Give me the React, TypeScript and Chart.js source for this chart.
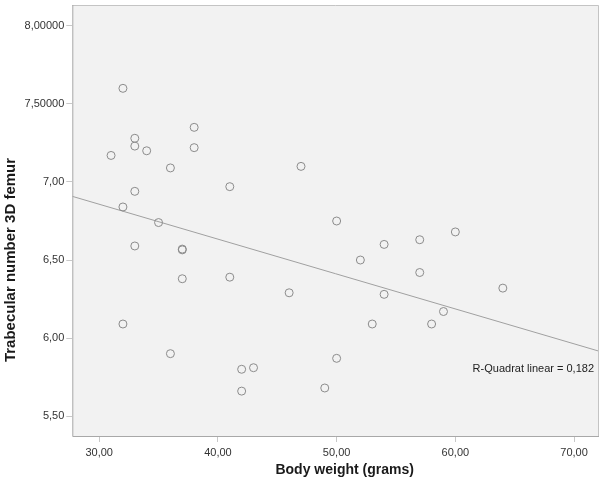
import React, { useEffect, useRef } from "react";
import { Chart, registerables } from "chart.js";

Chart.register(...registerables);

// Body weight (grams) of each animal
const bodyWeight = [
  32, 38, 33, 33, 34, 38, 31, 36, 47, 41, 33, 32, 35, 50, 33, 37, 37, 52, 37,
  41, 46, 32, 54, 57, 60, 57, 54, 64, 59, 53, 58, 36, 42, 43, 42, 49, 50,
];
// Trabecular number 3D femur
const trabecularNumber = [
  7.6, 7.35, 7.28, 7.23, 7.2, 7.22, 7.17, 7.09, 7.1, 6.97, 6.94, 6.84, 6.74,
  6.75, 6.59, 6.57, 6.565, 6.5, 6.38, 6.39, 6.29, 6.09, 6.6, 6.63, 6.68, 6.42,
  6.28, 6.32, 6.17, 6.09, 6.09, 5.9, 5.8, 5.81, 5.66, 5.68, 5.87,
];
// Linear fit line endpoints
const fitX = [27.735, 72.1];
const fitY = [6.908, 5.916];
const rSquaredLabel = "R-Quadrat linear = 0,182";

const xTicks = [30, 40, 50, 60, 70];
const xTickLabels = ["30,00", "40,00", "50,00", "60,00", "70,00"];
const yTicks = [5.5, 6.0, 6.5, 7.0, 7.5, 8.0];
const yTickLabels = ["5,50", "6,00", "6,50", "7,00", "7,50000", "8,00000"];

const xTitle = "Body weight (grams)";
const yTitle = "Trabecular number 3D femur";

const FONT = '"Liberation Sans", Arial, Helvetica, sans-serif';

export default function App() {
  const ref = useRef<HTMLCanvasElement | null>(null);

  useEffect(() => {
    if (!ref.current) return;

    const framePlugin = {
      id: "spssFrame",
      beforeDraw(chart: any) {
        const { ctx, chartArea: a } = chart;
        ctx.save();
        ctx.fillStyle = "#f2f2f2";
        ctx.fillRect(a.left, a.top, a.right - a.left, a.bottom - a.top);
        ctx.restore();
      },
      afterDraw(chart: any) {
        const { ctx, chartArea: a } = chart;
        ctx.save();
        ctx.strokeStyle = "#c4c4c4";
        ctx.lineWidth = 1;
        ctx.beginPath();
        ctx.moveTo(a.left, a.top + 0.5);
        ctx.lineTo(a.right - 0.5, a.top + 0.5);
        ctx.lineTo(a.right - 0.5, a.bottom);
        ctx.stroke();
        ctx.strokeStyle = "#a8a8a8";
        ctx.beginPath();
        ctx.moveTo(a.left + 0.5, a.top);
        ctx.lineTo(a.left + 0.5, a.bottom - 0.5);
        ctx.lineTo(a.right, a.bottom - 0.5);
        ctx.stroke();

        // axis titles
        ctx.fillStyle = "#1a1a1a";
        ctx.textAlign = "center";
        ctx.textBaseline = "middle";
        ctx.font = `bold 14px ${FONT}`;
        ctx.fillText(xTitle, (a.left + a.right) / 2 + 9, 470);
        ctx.save();
        ctx.translate(10.5, (a.top + a.bottom) / 2 + 39);
        ctx.rotate(-Math.PI / 2);
        ctx.font = `bold 15px ${FONT}`;
        ctx.fillText(yTitle, 0, 0);
        ctx.restore();

        // R squared annotation
        const yScale = chart.scales.y;
        ctx.font = `11px ${FONT}`;
        ctx.fillStyle = "#222";
        ctx.textAlign = "right";
        ctx.fillText(rSquaredLabel, a.right - 5, yScale.getPixelForValue(5.8));
        ctx.restore();
      },
    };

    const chart = new Chart(ref.current, {
      type: "scatter",
      data: {
        datasets: [
          {
            type: "scatter",
            data: bodyWeight.map((w, i) => ({ x: w, y: trabecularNumber[i] })),
            pointStyle: "circle",
            pointRadius: 4,
            pointBackgroundColor: "rgba(0,0,0,0)",
            pointBorderColor: "#8c8c8c",
            pointBorderWidth: 1,
            order: 1,
          },
          {
            type: "line",
            data: fitX.map((x, i) => ({ x, y: fitY[i] })),
            borderColor: "#a0a0a0",
            borderWidth: 1,
            pointRadius: 0,
            fill: false,
            order: 2,
          } as any,
        ],
      },
      options: {
        responsive: false,
        animation: false,
        devicePixelRatio: 1,
        layout: { padding: { top: 4.5, right: 3, left: 0, bottom: 0 } },
        plugins: {
          legend: { display: false },
          tooltip: { enabled: false },
        },
        scales: {
          x: {
            type: "linear",
            min: 27.735,
            max: 72.1,
            afterFit: (s: any) => {
              s.height = 45;
              s.paddingLeft = 0;
              s.paddingRight = 0;
            },
            afterBuildTicks: (s: any) => {
              s.ticks = xTicks.map((v) => ({ value: v }));
            },
            border: { display: false },
            grid: {
              drawOnChartArea: false,
              drawTicks: true,
              tickLength: 5,
              color: "#c8c8c8",
            },
            ticks: {
              autoSkip: false,
              maxRotation: 0,
              padding: 4,
              color: "#333",
              font: { family: FONT, size: 11 },
              callback: (_v: any, i: number) => xTickLabels[i],
            },
          },
          y: {
            type: "linear",
            min: 5.366,
            max: 8.134,
            afterFit: (s: any) => {
              s.width = 72.3;
              s.paddingTop = 0;
              s.paddingBottom = 0;
            },
            afterBuildTicks: (s: any) => {
              s.ticks = yTicks.map((v) => ({ value: v }));
            },
            border: { display: false },
            grid: {
              drawOnChartArea: false,
              drawTicks: true,
              tickLength: 6,
              color: "#c8c8c8",
            },
            ticks: {
              autoSkip: false,
              padding: 2,
              color: "#333",
              font: { family: FONT, size: 11 },
              callback: (_v: any, i: number) => yTickLabels[i],
            },
          },
        },
      },
      plugins: [framePlugin],
    } as any);

    return () => chart.destroy();
  }, []);

  return (
    <div style={{ position: "absolute", left: 0, top: 0, width: 604, height: 482, background: "#fff" }}>
      <canvas ref={ref} width={604} height={482} style={{ display: "block" }} />
    </div>
  );
}
